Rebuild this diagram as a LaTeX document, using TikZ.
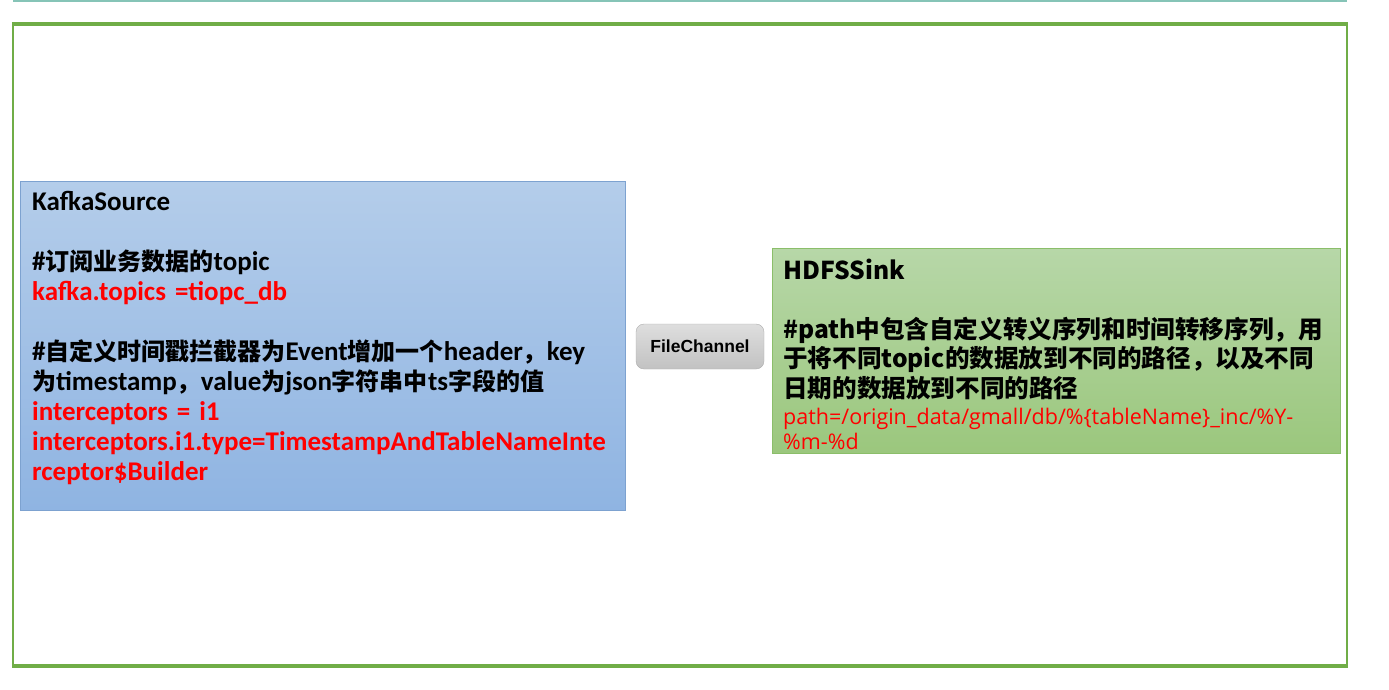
\documentclass[tikz,border=0pt]{standalone}
\usepackage{fontspec}
\setmainfont{Carlito}
\newfontfamily\cjk{Noto Sans CJK SC}
\newfontfamily\pathfont{Open Sans}
\newfontfamily\chanfont{Liberation Sans}
\usetikzlibrary{positioning}

\definecolor{framegreen}{HTML}{70AD47}
\definecolor{toprule}{HTML}{86C4B7}
\definecolor{srctop}{HTML}{B4CDEA}
\definecolor{srcbot}{HTML}{8FB4E2}
\definecolor{srcline}{HTML}{7DA2D0}
\definecolor{sinktop}{HTML}{B7D7A8}
\definecolor{sinkbot}{HTML}{9BC77D}
\definecolor{sinkline}{HTML}{8BBE6A}
\definecolor{chantop}{HTML}{DEDEDE}
\definecolor{chanbot}{HTML}{C2C2C2}
\definecolor{chanline}{HTML}{ACACAC}

\newcommand{\zh}[1]{{\cjk\fontsize{24}{30}\selectfont #1}}

\begin{document}
\begin{tikzpicture}[
        x=1pt, y=-1pt,
        frame/.style={draw=framegreen, line width=2.5pt, minimum width=1334pt, minimum height=640pt, inner sep=0pt},
        frameedge/.style={draw=framegreen, line width=4pt},
        srcbox/.style={draw=srcline, top color=srctop, bottom color=srcbot, minimum width=605pt, minimum height=329pt, inner sep=0pt},
        sinkbox/.style={draw=sinkline, top color=sinktop, bottom color=sinkbot, minimum width=568pt, minimum height=205pt, inner sep=0pt},
        chanbox/.style={draw=chanline, top color=chantop, bottom color=chanbot, rounded corners=8pt, minimum width=128pt, minimum height=45pt, font=\chanfont\bfseries\fontsize{17.5}{20}\selectfont},
        srctext/.style={align=left, text width=600pt, inner sep=0pt, font=\bfseries\fontsize{27}{30}\selectfont},
        sinktext/.style={align=left, text width=560pt, inner sep=0pt, font=\cjk\bfseries\fontsize{24.6}{29.5}\selectfont},
        pathtext/.style={align=left, text width=560pt, inner sep=0pt, text=red, font=\pathfont\fontsize{21.5}{25}\selectfont}
      ]

      \useasboundingbox (0,0) rectangle (1389,689);
      \draw[toprule, line width=1.5pt] (13,1) -- (1347,1);

      \node (Frame) [frame] at (680,345) {};
      \draw[frameedge] (Frame.north west) -- (Frame.north east);
      \draw[frameedge] (Frame.south west) -- (Frame.south east);

      \node (KS) [srcbox] at (322.5,345.5) {};
      \node (KStext) [srctext, anchor=base west] at (32,210) {KafkaSource\\[30pt]
        \#\zh{订阅业务数据的}topic\\
        {\color{red}kafka.topics =tiopc\_db}\\[30pt]
        \#\zh{自定义时间戳拦截器为}Event\zh{增加一个}header\zh{，}key\\
        \zh{为}timestamp\zh{，}value\zh{为}json\zh{字符串中}ts\zh{字段的值}\\
        {\color{red}interceptors = i1\\
        interceptors.i1.type=TimestampAndTableNameInte\\
        rceptor\$Builder}};

      \node (FC) [chanbox] at (700,346.5) {FileChannel};

      \node (HS) [sinkbox] at (1056,350.5) {};
      \node (HStext) [sinktext, anchor=base west] at (783,279) {HDFSSink\\[29.5pt]
        \#path中包含自定义转义序列和时间转移序列，用\\
        于将不同topic的数据放到不同的路径，以及不同\\
        日期的数据放到不同的路径};
      \node (HSpath) [pathtext, anchor=base west] at (783,424) {path=/origin\_data/gmall/db/\%\{tableName\}\_inc/\%Y-\\
        \%m-\%d};

    \end{tikzpicture}
\end{document}
